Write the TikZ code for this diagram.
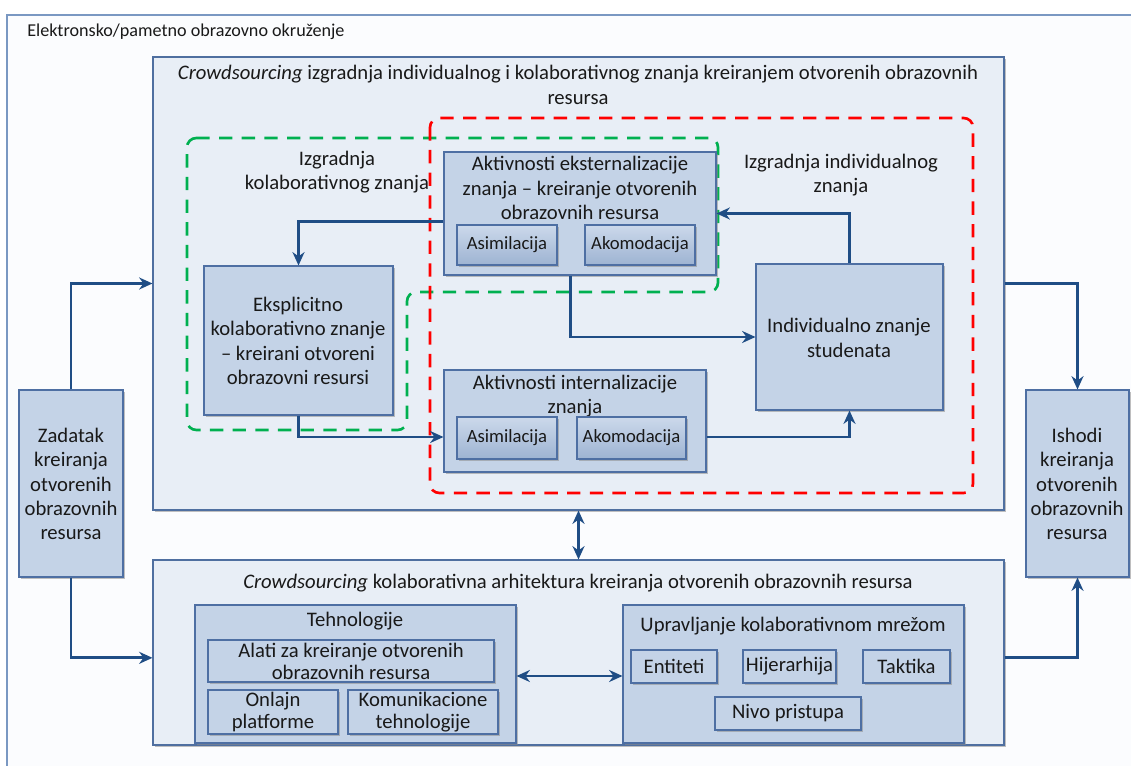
\documentclass[tikz,border=0pt]{standalone}
\usepackage{fontspec}
\setmainfont{Carlito}
\usetikzlibrary{arrows.meta,shadows,fit}
\definecolor{envline}{HTML}{7A98C2}
\definecolor{envfill}{HTML}{FBFCFE}
\definecolor{panelline}{HTML}{4F6FA0}
\definecolor{panelfill}{HTML}{E8EEF6}
\definecolor{blockline}{HTML}{4E6FA3}
\definecolor{blockfill}{HTML}{C4D3E7}
\definecolor{chiptop}{HTML}{CCD9EB}
\definecolor{chipbot}{HTML}{9DB3D2}
\definecolor{flowcol}{HTML}{1F4D85}
\definecolor{zoneRed}{HTML}{FF0000}
\definecolor{zoneGreen}{HTML}{00B050}
\begin{document}
\begin{tikzpicture}[x=0.75pt,y=-0.75pt,
  every node/.style={font=\fontsize{15.5}{18.2}\selectfont, text=black!90, align=center},
  shade/.style={drop shadow={shadow xshift=1.6pt, shadow yshift=-1.6pt, fill=black!45, opacity=0.55}},
  panel/.style={draw=panelline, fill=panelfill, line width=0.8pt, inner sep=0pt, shade},
  block/.style={draw=blockline, fill=blockfill, line width=0.8pt, inner sep=0pt, shade},
  chip/.style={draw=blockline, fill=blockfill, line width=0.8pt, inner sep=0pt, shade},
  gchip/.style={draw=blockline, top color=chiptop, bottom color=chipbot, line width=0.8pt, inner sep=0pt, shade},
  txt/.style={inner sep=0pt},
  small/.style={font=\fontsize{14}{16}\selectfont},
  tight/.style={font=\fontsize{15.5}{16.6}\selectfont},
  zone/.style={line width=2pt, dash pattern=on 10pt off 7pt, rounded corners=7pt},
  flow/.style={draw=flowcol, line width=2.1pt, -{Stealth[length=10pt,width=9pt]}},
  flow2/.style={draw=flowcol, line width=2.1pt, {Stealth[length=10pt,width=9pt]}-{Stealth[length=10pt,width=9pt]}},
]
\useasboundingbox (0,0) rectangle (1131,766);
\fill[white] (0,0) rectangle (1131,766);

% electronic / smart learning environment
\draw[draw=envline, fill=envfill, line width=0.8pt] (7,15) rectangle (1145,780);
\node[txt, anchor=west, font=\fontsize{13.6}{16}\selectfont] (envtitle) at (27,32) {Elektronsko/pametno obrazovno okruženje};

% upper panel: building knowledge
\node[panel, fit={(153,57) (1004,510)}] (top) {};
\node[txt] (toptitle) at (578,85) {\textit{Crowdsourcing} izgradnja individualnog i kolaborativnog znanja kreiranjem otvorenih obrazovnih\\resursa};

% lower panel: collaborative architecture
\node[panel, fit={(153,560) (1004,745)}] (bot) {};
\node[txt] (bottitle) at (578,583) {\textit{Crowdsourcing} kolaborativna arhitektura kreiranja otvorenih obrazovnih resursa};

% dashed zones
\draw[zone, draw=zoneGreen] (187,138) -- (718,138) -- (718,292) -- (407,292) -- (407,430) -- (187,430) -- cycle;
\draw[zone, draw=zoneRed] (430,118) rectangle (973,493);
\node[txt] (zcol) at (337,172) {Izgradnja\\kolaborativnog znanja};
\node[txt] (zind) at (841,175) {Izgradnja individualnog\\znanja};

% task and outcome blocks
\node[block, fit={(19,390) (123,577)}] (zad) {};
\node[txt] (zadtxt) at (71,484) {Zadatak\\kreiranja\\otvorenih\\obrazovnih\\resursa};
\node[block, fit={(1026,390) (1129,577)}] (ish) {};
\node[txt] (ishtxt) at (1077,484) {Ishodi\\kreiranja\\otvorenih\\obrazovnih\\resursa};

% externalisation
\node[block, fit={(444,152) (716,275)}] (ext) {};
\node[txt] (exttxt) at (580,188) {Aktivnosti eksternalizacije\\znanja -- kreiranje otvorenih\\obrazovnih resursa};
\node[gchip, fit={(457,225) (557,265)}] (extas) {};
\node[txt, small] at (extas.center) (extastxt) {Asimilacija};
\node[gchip, fit={(585,225) (695,265)}] (extak) {};
\node[txt, small] at (extak.center) (extaktxt) {Akomodacija};

% explicit collaborative knowledge
\node[block, fit={(204,266) (393,415)}] (eks) {};
\node[txt] (ekstxt) at (298,341) {Eksplicitno\\kolaborativno znanje\\-- kreirani otvoreni\\obrazovni resursi};

% individual knowledge
\node[block, fit={(756,264) (943,410)}] (ind) {};
\node[txt] (indtxt) at (849,338) {Individualno znanje\\studenata};

% internalisation
\node[block, fit={(444,370) (706,472)}] (int) {};
\node[txt] (inttxt) at (575,396) {Aktivnosti internalizacije\\znanja};
\node[gchip, fit={(457,417) (557,459)}] (intas) {};
\node[txt, small] at (intas.center) (intastxt) {Asimilacija};
\node[gchip, fit={(577,417) (686,459)}] (intak) {};
\node[txt, small] at (intak.center) (intaktxt) {Akomodacija};

% technologies
\node[block, fit={(195,605) (516,743)}] (teh) {};
\node[txt] (tehtxt) at (355,621) {Tehnologije};
\node[chip, fit={(208,640) (494,682)}] (alati) {};
\node[txt, tight] at (alati.center) (alatitxt) {Alati za kreiranje otvorenih\\obrazovnih resursa};
\node[chip, fit={(208,690) (338,734)}] (onl) {};
\node[txt, tight] at (onl.center) (onltxt) {Onlajn\\platforme};
\node[chip, fit={(348,690) (498,734)}] (kom) {};
\node[txt, tight] at (kom.center) (komtxt) {Komunikacione\\tehnologije};

% network management
\node[block, fit={(623,605) (964,743)}] (upr) {};
\node[txt] (uprtxt) at (793,626) {Upravljanje kolaborativnom mrežom};
\node[chip, fit={(631,650) (717,683)}] (ent) {};
\node[txt] at (ent.center) (enttxt) {Entiteti};
\node[chip, fit={(743,650) (836,683)}] (hij) {};
\node[txt] at (hij.center) (hijtxt) {Hijerarhija};
\node[chip, fit={(863,650) (950,683)}] (tak) {};
\node[txt] at (tak.center) (taktxt) {Taktika};
\node[chip, fit={(715,697) (861,730)}] (niv) {};
\node[txt] at (niv.center) (nivtxt) {Nivo pristupa};

% connectors
\draw[flow] (zad.north) |- (top.west);
\draw[flow] (zad.south) |- ([yshift=-4pt]bot.west);
\draw[flow] (top.east) -| (ish.north);
\draw[flow] ([yshift=-4pt]bot.east) -| (ish.south);
\draw[flow2] (top.south) -- (bot.north);
\draw[flow2] ([yshift=-1.5pt]teh.east) -- ([yshift=-1.5pt]upr.west);
\draw[flow] ([yshift=-6pt]ext.west) -| (eks.north);
\draw[flow] (eks.south) |- ([yshift=-12pt]int.west);
\draw[flow] ([xshift=-7pt]ext.south) |- (ind.west);
\draw[flow] ([yshift=-12pt]int.east) -| (ind.south);
\draw[flow] (ind.north) |- (ext.east);
\end{tikzpicture}
\end{document}
